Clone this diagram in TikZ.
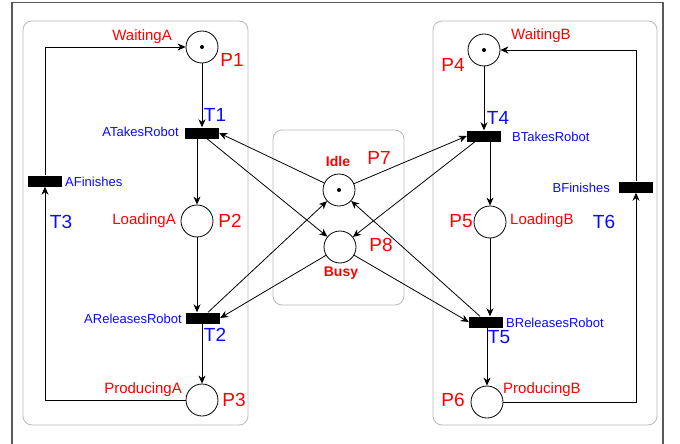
\documentclass[tikz,border=0pt]{standalone}
\usepackage{fontspec}
\setmainfont{Liberation Sans}
\usetikzlibrary{arrows.meta}
\definecolor{pred}{RGB}{255,0,0}
\definecolor{tblue}{RGB}{10,10,255}
\begin{document}
\begin{tikzpicture}[x=1pt,y=-1pt,
  place/.style={circle,draw,line width=0.8pt,minimum size=32pt,inner sep=0pt},
  trans/.style={rectangle,fill=black,minimum width=34pt,minimum height=11pt,inner sep=0pt},
  arc/.style={line width=0.8pt,-{Stealth[length=8pt,width=7pt,inset=2.5pt]}},
  token/.style={circle,fill=black,inner sep=0pt,minimum size=4pt},
  pname/.style={text=pred,font=\fontsize{15}{18}\selectfont,inner sep=0pt},
  pbold/.style={text=pred,font=\fontsize{14}{17}\selectfont\bfseries,inner sep=0pt},
  plabel/.style={text=pred,font=\fontsize{19}{22}\selectfont,inner sep=0pt},
  tname/.style={text=tblue,font=\fontsize{13}{15}\selectfont,inner sep=0pt},
  tlabel/.style={text=tblue,font=\fontsize{19}{22}\selectfont,inner sep=0pt},
  group/.style={draw=black!27,line width=0.8pt,rounded corners=9pt},
]
\useasboundingbox (0,0) rectangle (680,444);
\fill[white] (0,0) rectangle (680,444);

% outer frame (open at the bottom)
\draw[draw=black!65,line width=1.6pt] (12,444) -- (12,2.5) -- (663,2.5) -- (663,444);

% groups: process A, shared robot, process B
\draw[group] (23,21) rectangle (248,425);
\draw[group] (273,130) rectangle (404,305);
\draw[group] (433,21) rectangle (657,425);

% places
\node[place] (P1) at (202,47) {};
\node[place] (P2) at (197,221) {};
\node[place] (P3) at (202,400) {};
\node[place] (P4) at (484,50) {};
\node[place] (P5) at (490,222) {};
\node[place] (P6) at (487,402) {};
\node[place] (P7) at (339,190) {};
\node[place] (P8) at (340,247) {};

% tokens
\node[token] (k1) at (P1) {};
\node[token] (k4) at (P4) {};
\node[token] (k7) at (P7) {};

% transitions
\node[trans] (T1) at (202,133) {};
\node[trans] (T2) at (203,318) {};
\node[trans] (T3) at (45,181) {};
\node[trans] (T4) at (484,136) {};
\node[trans] (T5) at (486,322) {};
\node[trans] (T6) at (636,187) {};

% process A cycle
\draw[arc] (P1) -- (T1);
\draw[arc] (T1.south -| P2) -- (P2);
\draw[arc] (P2) -- (P2 |- T2.north);
\draw[arc] (T2.south -| P3) -- (P3);
\draw[arc] (P3.west) -| (T3.south);
\draw[arc] (T3.north) |- (P1.west);

% process B cycle
\draw[arc] (P4) -- (P4 |- T4.north);
\draw[arc] (T4.south -| P5) -- (P5);
\draw[arc] (P5) -- (P5 |- T5.north);
\draw[arc] (T5.south -| P6) -- (P6);
\draw[arc] (P6.east) -| (T6.south);
\draw[arc] (T6.north) |- (P4.east);

% shared robot
\draw[arc] (P7) -- (T1.east);
\draw[arc] ([xshift=5pt]T1.south) -- (P8);
\draw[arc] ([xshift=5pt]T2.north) -- (P7);
\draw[arc] (P8) -- (T2.east);
\draw[arc] (P7) -- (T4.west);
\draw[arc] ([xshift=-9pt]T4.south) -- (P8);
\draw[arc] ([xshift=-6pt]T5.north) -- (P7);
\draw[arc] (P8) -- (T5.west);

% labels, process A
\node[pname,anchor=east] (nP1) at (172,37) {WaitingA};
\node[plabel] (lP1) at (232,60) {P1};
\node[tlabel] (lT1) at (215,115) {T1};
\node[tname,anchor=east] (nT1) at (179,132) {ATakesRobot};
\node[tname,anchor=west] (nT3) at (65,182) {AFinishes};
\node[tlabel] (lT3) at (61,222) {T3};
\node[pname,anchor=east] (nP2) at (176,221) {LoadingA};
\node[plabel] (lP2) at (230,221) {P2};
\node[tname,anchor=east] (nT2) at (182,319) {AReleasesRobot};
\node[tlabel] (lT2) at (215,335) {T2};
\node[pname,anchor=east] (nP3) at (182,390) {ProducingA};
\node[plabel] (lP3) at (234,400) {P3};

% labels, process B
\node[pname,anchor=west] (nP4) at (511,36) {WaitingB};
\node[plabel] (lP4) at (453,65) {P4};
\node[tlabel] (lT4) at (498,118) {T4};
\node[tname,anchor=west] (nT4) at (512,137) {BTakesRobot};
\node[tname,anchor=east] (nT6) at (610,188) {BFinishes};
\node[tlabel] (lT6) at (604,222) {T6};
\node[plabel] (lP5) at (461,221) {P5};
\node[pname,anchor=west] (nP5) at (510,221) {LoadingB};
\node[tname,anchor=west] (nT5) at (506,323) {BReleasesRobot};
\node[tlabel] (lT5) at (499,337) {T5};
\node[plabel] (lP6) at (453,400) {P6};
\node[pname,anchor=west] (nP6) at (503,390) {ProducingB};

% labels, robot
\node[pbold] (nP7) at (338,161) {Idle};
\node[plabel] (lP7) at (379,158) {P7};
\node[plabel] (lP8) at (381,245) {P8};
\node[pbold] (nP8) at (341,273) {Busy};
\end{tikzpicture}
\end{document}
